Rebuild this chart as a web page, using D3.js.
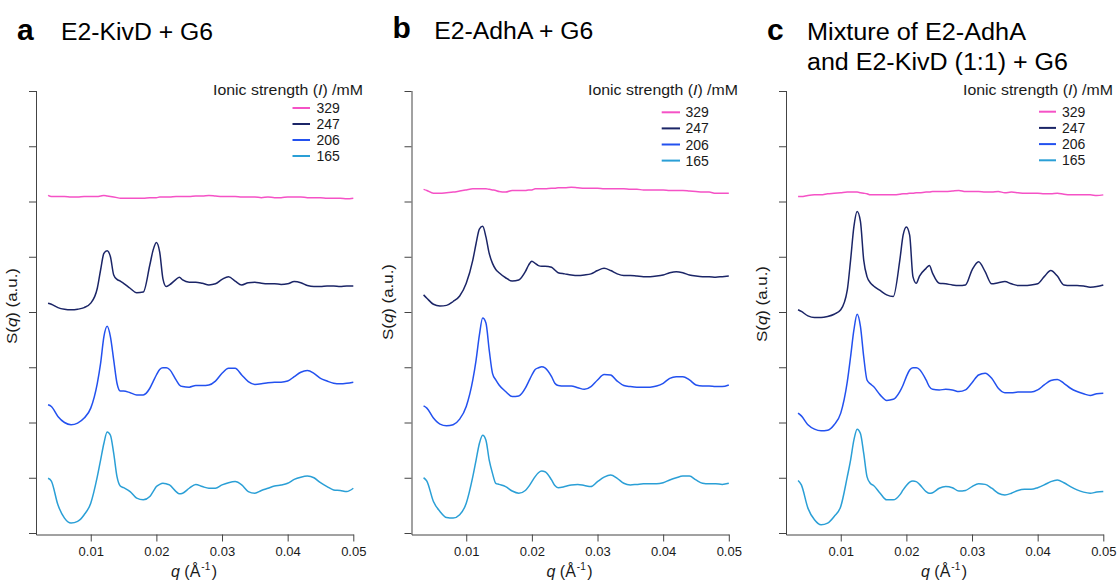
<!DOCTYPE html>
<html>
<head>
<meta charset="utf-8">
<script src="https://cdn.jsdelivr.net/npm/d3@7"></script>
<style>
  html, body { margin: 0; padding: 0; background: #fff; }
  svg { display: block; font-family: "Liberation Sans", Arial, Helvetica, sans-serif; }
</style>
</head>
<body>
<svg id="chart" width="1117" height="583"></svg>
<script>
// Scattering vector grid, q in 1/Å
const qGrid = [0.0035,0.004,0.005,0.006,0.007,0.008,0.009,0.010,0.011,0.0115,
  0.012,0.0125,0.013,0.0135,0.014,0.0145,0.015,0.016,0.017,0.018,
  0.019,0.0195,0.020,0.0205,0.021,0.0215,0.022,0.023,0.0235,0.024,
  0.025,0.026,0.027,0.028,0.029,0.030,0.031,0.032,0.033,0.034,
  0.035,0.036,0.037,0.038,0.039,0.040,0.041,0.042,0.043,0.044,
  0.045,0.046,0.047,0.048,0.049,0.050];

// Ionic strength levels (mM), top to bottom
const ionicStrength = ["329", "247", "206", "165"];

// S(q), vertically stacked, arbitrary units — E2-KivD + G6
const kivd329 = [6.11,6.09,6.09,6.09,6.08,6.08,6.09,6.09,6.09,6.10,
  6.11,6.10,6.09,6.08,6.07,6.06,6.06,6.06,6.06,6.06,
  6.07,6.07,6.07,6.08,6.08,6.08,6.08,6.09,6.09,6.09,
  6.09,6.10,6.10,6.11,6.10,6.09,6.09,6.09,6.08,6.08,
  6.08,6.07,6.08,6.07,6.07,6.08,6.08,6.08,6.07,6.07,
  6.07,6.06,6.06,6.06,6.05,6.06];
const kivd247 = [4.16,4.14,4.08,4.05,4.04,4.05,4.08,4.16,4.43,4.76,
  5.06,5.11,5.00,4.67,4.59,4.56,4.52,4.43,4.35,4.36,
  4.85,5.12,5.26,5.09,4.60,4.46,4.49,4.59,4.63,4.58,
  4.54,4.54,4.52,4.49,4.51,4.59,4.64,4.56,4.49,4.53,
  4.54,4.52,4.51,4.51,4.50,4.51,4.55,4.53,4.48,4.46,
  4.46,4.47,4.47,4.46,4.47,4.47];
const kivd206 = [2.32,2.29,2.11,2.00,1.96,1.99,2.08,2.26,2.71,3.07,
  3.55,3.74,3.55,3.13,2.71,2.57,2.57,2.54,2.50,2.50,
  2.62,2.74,2.86,2.96,2.99,2.99,2.96,2.77,2.68,2.65,
  2.64,2.67,2.67,2.68,2.75,2.89,2.98,2.98,2.86,2.74,
  2.69,2.70,2.72,2.73,2.73,2.75,2.83,2.91,2.94,2.89,
  2.80,2.75,2.71,2.70,2.71,2.73];
const kivd165 = [0.99,0.94,0.51,0.27,0.18,0.21,0.33,0.54,1.02,1.32,
  1.62,1.83,1.77,1.44,1.02,0.85,0.82,0.75,0.63,0.60,
  0.66,0.75,0.84,0.88,0.90,0.89,0.87,0.75,0.71,0.72,
  0.81,0.88,0.84,0.81,0.81,0.87,0.91,0.93,0.87,0.75,
  0.72,0.77,0.81,0.85,0.87,0.90,0.97,1.01,1.03,1.00,
  0.91,0.84,0.78,0.77,0.75,0.81];

// E2-AdhA + G6
const adha329 = [6.22,6.20,6.15,6.15,6.16,6.17,6.19,6.21,6.23,6.23,
  6.23,6.23,6.23,6.22,6.21,6.20,6.18,6.17,6.20,6.20,
  6.20,6.21,6.21,6.23,6.23,6.23,6.23,6.24,6.24,6.25,
  6.25,6.26,6.25,6.24,6.24,6.24,6.23,6.23,6.23,6.23,
  6.22,6.22,6.21,6.21,6.21,6.21,6.20,6.20,6.20,6.19,
  6.18,6.17,6.17,6.15,6.15,6.15];
const adha247 = [4.31,4.25,4.14,4.11,4.12,4.19,4.29,4.52,4.94,5.24,
  5.50,5.55,5.36,5.06,4.88,4.77,4.71,4.62,4.56,4.58,
  4.73,4.85,4.92,4.88,4.84,4.83,4.83,4.81,4.76,4.71,
  4.69,4.67,4.66,4.67,4.69,4.75,4.79,4.75,4.69,4.66,
  4.66,4.65,4.64,4.64,4.65,4.67,4.71,4.73,4.71,4.67,
  4.65,4.64,4.64,4.63,4.64,4.65];
const adha206 = [2.30,2.26,2.08,1.97,1.94,1.96,2.06,2.29,2.77,3.13,
  3.58,3.89,3.80,3.31,2.89,2.77,2.68,2.56,2.47,2.48,
  2.62,2.74,2.86,2.96,2.99,3.01,2.99,2.83,2.71,2.67,
  2.66,2.66,2.63,2.60,2.65,2.77,2.87,2.86,2.75,2.67,
  2.65,2.64,2.64,2.64,2.66,2.71,2.80,2.83,2.83,2.77,
  2.68,2.66,2.66,2.65,2.65,2.68];
const adha165 = [1.00,0.94,0.57,0.39,0.28,0.27,0.33,0.54,1.02,1.32,
  1.62,1.77,1.68,1.32,1.08,0.90,0.88,0.84,0.76,0.72,
  0.77,0.84,0.93,1.02,1.09,1.12,1.11,0.96,0.86,0.82,
  0.84,0.87,0.88,0.86,0.84,0.93,1.01,1.05,0.99,0.90,
  0.87,0.88,0.89,0.89,0.89,0.91,0.96,1.00,1.03,1.03,
  0.96,0.90,0.89,0.89,0.88,0.90];

// Mixture of E2-AdhA and E2-KivD (1:1) + G6
const mix329 = [6.09,6.09,6.11,6.12,6.12,6.14,6.15,6.16,6.17,6.17,
  6.17,6.17,6.16,6.15,6.14,6.12,6.12,6.12,6.12,6.12,
  6.13,6.14,6.14,6.15,6.15,6.16,6.16,6.17,6.17,6.18,
  6.18,6.18,6.19,6.20,6.18,6.18,6.18,6.17,6.17,6.18,
  6.16,6.17,6.16,6.15,6.15,6.15,6.14,6.14,6.15,6.13,
  6.12,6.12,6.12,6.12,6.11,6.12];
const mix247 = [4.04,4.01,3.93,3.90,3.90,3.92,3.96,4.04,4.40,4.94,
  5.54,5.82,5.64,4.94,4.64,4.53,4.47,4.39,4.31,4.28,
  4.94,5.39,5.54,5.39,4.64,4.52,4.65,4.79,4.84,4.70,
  4.52,4.51,4.49,4.48,4.49,4.76,4.91,4.73,4.51,4.53,
  4.55,4.51,4.48,4.48,4.49,4.51,4.64,4.75,4.65,4.49,
  4.48,4.48,4.47,4.45,4.46,4.49];
const mix206 = [2.17,2.12,1.96,1.88,1.85,1.86,1.96,2.17,2.74,3.19,
  3.67,3.96,3.74,3.19,2.77,2.70,2.65,2.50,2.40,2.42,
  2.56,2.68,2.83,2.95,2.99,2.99,2.96,2.77,2.65,2.60,
  2.59,2.60,2.59,2.56,2.59,2.72,2.86,2.89,2.80,2.62,
  2.54,2.54,2.55,2.55,2.55,2.59,2.68,2.76,2.78,2.71,
  2.62,2.56,2.52,2.49,2.52,2.53];
const mix165 = [0.95,0.87,0.45,0.24,0.15,0.18,0.30,0.48,1.02,1.32,
  1.68,1.88,1.80,1.44,1.02,0.90,0.86,0.72,0.60,0.60,
  0.69,0.78,0.86,0.92,0.94,0.93,0.88,0.75,0.72,0.73,
  0.81,0.84,0.82,0.76,0.77,0.84,0.89,0.88,0.81,0.72,
  0.69,0.72,0.77,0.79,0.79,0.82,0.87,0.93,0.96,0.91,
  0.84,0.78,0.74,0.72,0.74,0.75];

// Axis ticks
const xTicks = [0.01, 0.02, 0.03, 0.04, 0.05];
const yTicks = [0, 1, 2, 3, 4, 5, 6, 7, 8];

// Panel letters and titles
const panelLetters = ["a", "b", "c"];
const panelTitles = [
  ["E2-KivD + G6"],
  ["E2-AdhA + G6"],
  ["Mixture of E2-AdhA", "and E2-KivD (1:1) + G6"]
];

// Line colours per ionic strength
const seriesColors = ["#f552c6", "#1b2567", "#2351ef", "#2a9fd6"];

const panelSeries = [
  [kivd329, kivd247, kivd206, kivd165],
  [adha329, adha247, adha206, adha165],
  [mix329, mix247, mix206, mix165]
];

// Placement of each panel
const panelLayout = [
  { left: 36,    letterX: 17,    letterY: 40,   titleX: 61,    titleY: [40],     titleW: [152],
    legTitleX: 213, legTitleY: 95, legRow0: 108,   legStep: 16,   legLine: [292.5, 310],  legText: 316.5, yLabY: 306 },
  { left: 411.5, letterX: 392.5, letterY: 37.5, titleX: 434.3, titleY: [39.3],   titleW: [159],
    legTitleX: 588, legTitleY: 95, legRow0: 112.3, legStep: 16.1, legLine: [661.7, 680],  legText: 685.5, yLabY: 302 },
  { left: 786,   letterX: 767,   letterY: 39.5, titleX: 807,   titleY: [40, 70], titleW: [219, 261],
    legTitleX: 963, legTitleY: 94.5, legRow0: 111.7, legStep: 16.2, legLine: [1039, 1056], legText: 1062, yLabY: 304 }
];

const plotWidth = 317.3;
const axisColor = "#444";
const textColor = "#1a1a1a";

const svg = d3.select("#chart");

panelLayout.forEach((P, i) => {
  const g = svg.append("g");
  const x = d3.scaleLinear().domain([0.00166, 0.05]).range([P.left, P.left + plotWidth]);
  const y = d3.scaleLinear().domain([0, 8]).range([533, 91]);
  const axisY = 534.5;

  // bottom axis
  const gx = g.append("g")
    .attr("transform", `translate(0,${axisY})`)
    .call(d3.axisBottom(x).tickValues(xTicks).tickSize(7).tickSizeOuter(0)
      .tickPadding(5).tickFormat(d3.format(".2f")));
  gx.attr("font-family", null).attr("font-size", null);
  gx.selectAll("path, line").attr("stroke", axisColor).attr("stroke-width", 1);
  gx.selectAll("text").attr("fill", textColor).style("font-size", "13px");

  // left axis (unlabelled ticks)
  const gy = g.append("g")
    .attr("transform", `translate(${P.left},0)`)
    .call(d3.axisLeft(y).tickValues(yTicks).tickSize(7).tickSizeOuter(0).tickFormat(""));
  gy.select(".domain").remove();
  gy.selectAll("line").attr("stroke", axisColor).attr("stroke-width", 1);
  g.append("line")
    .attr("x1", P.left + 0.5).attr("x2", P.left + 0.5)
    .attr("y1", y(8)).attr("y2", axisY + 0.5)
    .attr("stroke", axisColor).attr("stroke-width", 1);

  // curves
  const line = d3.line()
    .x((d, k) => x(qGrid[k]))
    .y(d => y(d))
    .curve(d3.curveMonotoneX);
  panelSeries[i].forEach((vals, s) => {
    g.append("path")
      .datum(vals)
      .attr("d", line)
      .attr("fill", "none")
      .attr("stroke", seriesColors[s])
      .attr("stroke-width", 1.5)
      .attr("stroke-linejoin", "round");
  });

  // panel letter and title
  g.append("text")
    .attr("x", P.letterX).attr("y", P.letterY)
    .attr("font-size", 30).attr("font-weight", "bold")
    .attr("fill", "#000")
    .text(panelLetters[i]);
  panelTitles[i].forEach((t, k) => {
    g.append("text")
      .attr("x", P.titleX).attr("y", P.titleY[k])
      .attr("font-size", 23)
      .attr("fill", "#000")
      .attr("textLength", P.titleW[k])
      .attr("lengthAdjust", "spacingAndGlyphs")
      .text(t);
  });

  // y-axis label
  const yl = g.append("text")
    .attr("transform", `translate(${P.left - 19},${P.yLabY}) rotate(-90)`)
    .attr("text-anchor", "middle")
    .attr("font-size", 15)
    .attr("fill", textColor)
    .attr("textLength", 76)
    .attr("lengthAdjust", "spacingAndGlyphs");
  yl.append("tspan").text("S(");
  yl.append("tspan").attr("font-style", "italic").text("q");
  yl.append("tspan").text(") (a.u.)");

  // x-axis label
  const xl = g.append("text")
    .attr("x", P.left + 135).attr("y", 577)
    .attr("font-size", 16)
    .attr("fill", textColor);
  xl.append("tspan").attr("font-style", "italic").text("q");
  xl.append("tspan").text(" (Å");
  xl.append("tspan").attr("font-size", 10).attr("dy", -7).attr("dx", 1).text("-1");
  xl.append("tspan").attr("dy", 7).attr("dx", 1.5).text(")");

  // legend
  const lt = g.append("text")
    .attr("x", P.legTitleX).attr("y", P.legTitleY)
    .attr("font-size", 15)
    .attr("fill", textColor)
    .attr("textLength", 150)
    .attr("lengthAdjust", "spacingAndGlyphs");
  lt.append("tspan").text("Ionic strength (");
  lt.append("tspan").attr("font-style", "italic").text("I");
  lt.append("tspan").text(") /mM");

  ionicStrength.forEach((label, s) => {
    const cy = P.legRow0 + s * P.legStep;
    g.append("line")
      .attr("x1", P.legLine[0]).attr("x2", P.legLine[1])
      .attr("y1", cy).attr("y2", cy)
      .attr("stroke", seriesColors[s]).attr("stroke-width", 2);
    g.append("text")
      .attr("x", P.legText).attr("y", cy + 5)
      .attr("font-size", 14)
      .attr("fill", textColor)
      .text(label);
  });
});
</script>
</body>
</html>
